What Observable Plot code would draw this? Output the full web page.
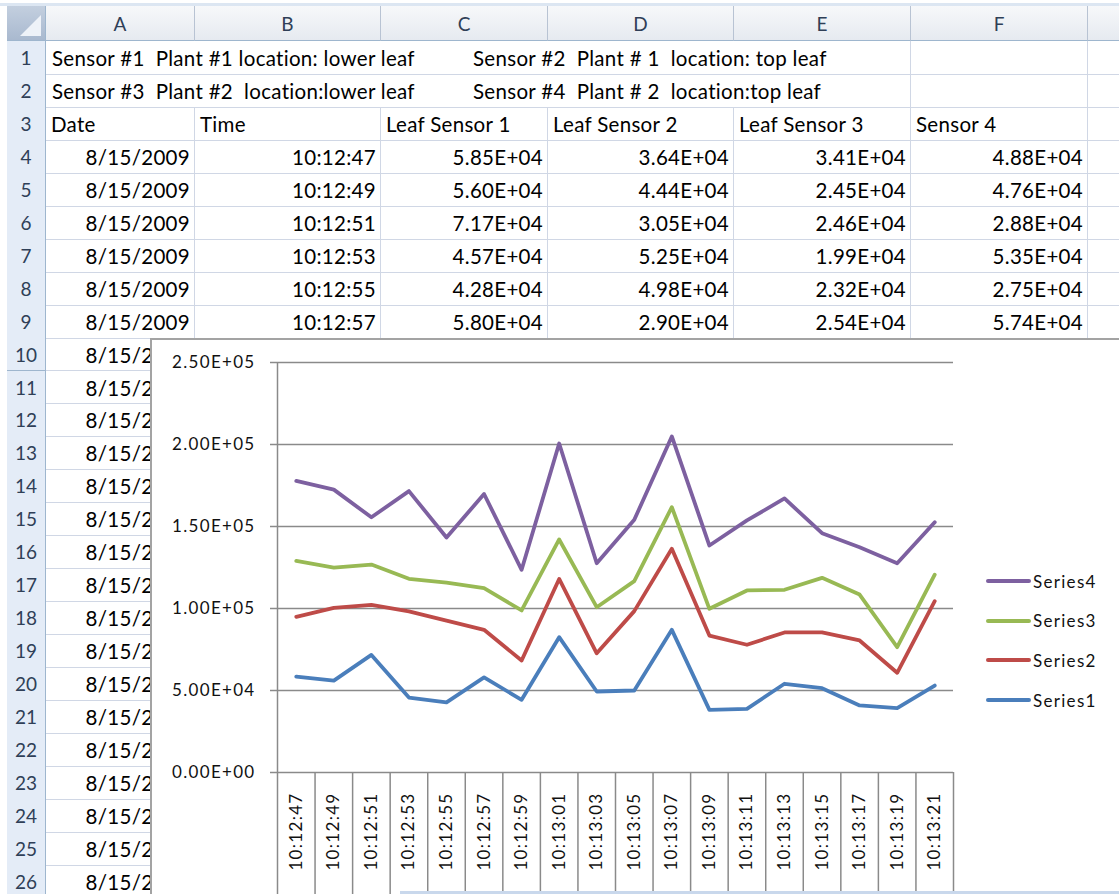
<!DOCTYPE html>
<html><head><meta charset="utf-8">
<script src="https://cdn.jsdelivr.net/npm/d3@7"></script>
<script src="https://cdn.jsdelivr.net/npm/@observablehq/plot@0.6"></script>
<style>
html,body{margin:0;padding:0;background:#fff;}
#sheet{position:relative;width:1119px;height:894px;overflow:hidden;background:#fff;font-family:Lato,"Open Sans",sans-serif;color:#000;}
.a{position:absolute;box-sizing:border-box;white-space:pre;}
</style></head><body><div id="sheet"></div>
<script>
// ---------- data ----------
const times = ["10:12:47","10:12:49","10:12:51","10:12:53","10:12:55","10:12:57","10:12:59","10:13:01","10:13:03","10:13:05","10:13:07","10:13:09","10:13:11","10:13:13","10:13:15","10:13:17","10:13:19","10:13:21"];
const series = ["Series1","Series2","Series3","Series4"];
const leafSensor1 = [58500,56000,71700,45700,42800,58000,44300,82500,49400,50000,87000,38200,38800,54100,51400,40900,39200,53000];
const leafSensor2 = [36400,44400,30500,52500,49800,29000,24000,35500,23300,48400,49400,45300,39100,31300,34000,39600,21600,51500];
const leafSensor3 = [34100,24500,24600,19900,23200,25400,30500,24100,28100,18300,25400,16300,33100,26000,33300,28000,15600,16100];
const sensor4     = [48800,47600,28800,53500,27500,57400,24800,58500,26800,37400,43100,38600,42700,55700,27200,28900,51200,32000];
const readingDate = "8/15/2009";
const columnLetters = ["A","B","C","D","E","F",""];
const columnHeaders = ["Date","Time","Leaf Sensor 1","Leaf Sensor 2","Leaf Sensor 3","Sensor 4"];
const notes = [
  ["Sensor #1  Plant #1 location: lower leaf", "Sensor #2  Plant # 1  location: top leaf"],
  ["Sensor #3  Plant #2  location:lower leaf", "Sensor #4  Plant # 2  location:top leaf"]
];
const yTicks = [0,50000,100000,150000,200000,250000];
const seriesColors = ["#4A7EBB","#BE4B48","#98B954","#7D60A0"];
const values = [leafSensor1, leafSensor2, leafSensor3, sensor4];

function sci(v){
  const [m,e] = v.toExponential(2).split("e");
  const n = +e;
  return m + "E" + (n < 0 ? "-" : "+") + String(Math.abs(n)).padStart(2,"0");
}

// ---------- spreadsheet ----------
const sheet = document.getElementById("sheet");
function el(style, text, parent = sheet){
  const d = document.createElement("div");
  d.className = "a";
  d.style.cssText = style;
  if (text != null) d.textContent = text;
  parent.appendChild(d);
  return d;
}
const colEdges = [46,195,381,548,734,911,1088,1150];
const rowH = 32.95, rowTop0 = 41, nRows = 26;
const rowTop = k => rowTop0 + (k - 1) * rowH;
const font = "font-size:20.5px;letter-spacing:0.3px;";
const hfont = "font-size:19px;";
const chartLeft = 150, chartTop = 338;
const visibleRows = 9; // rows fully above the embedded chart

// top strip
el("left:0;top:3px;width:1119px;height:3px;background:#dce6f2;");
// column headers
columnLetters.forEach((c, j) => {
  const w = colEdges[j+1] - colEdges[j];
  el(`left:${colEdges[j]}px;top:6px;width:${w}px;height:${rowTop0-6}px;background:linear-gradient(#f7f8fa,#e6eaf0);border-right:1px solid #b8c3d3;border-bottom:1px solid #9eb6ce;text-align:center;line-height:${rowTop0-6}px;${hfont}color:#2f3f57;`, c);
});
// corner
const corner = el(`left:7px;top:6px;width:39px;height:${rowTop0-6}px;background:linear-gradient(#c3cfdf,#a9b9cf);border-right:1px solid #9eb6ce;border-bottom:1px solid #9eb6ce;`);
corner.innerHTML = '<svg width="39" height="35" style="position:absolute;left:0;top:0"><polygon points="34,9 34,30 13,30" fill="#eef2f8"/></svg>';
// row headers and cells
for (let k = 1; k <= nRows; k++) {
  el(`left:7px;top:${rowTop(k)}px;width:39px;height:${rowH+1}px;background:#e4ecf7;border-right:1px solid #9eb6ce;border-bottom:1px solid #9eb6ce;text-align:center;line-height:${rowH+2}px;${hfont}color:#2f3f57;`, String(k));
  for (let j = 0; j < columnLetters.length; j++) {
    const w = colEdges[j+1] - colEdges[j];
    const hideRight = k <= 2 && j < 4;
    el(`left:${colEdges[j]}px;top:${rowTop(k)}px;width:${w}px;height:${rowH+1}px;border-bottom:1px solid #d0d7e5;${hideRight ? "" : "border-right:1px solid #d0d7e5;"}`);
  }
}
function cellText(k, j, text, align){
  const w = colEdges[j+1] - colEdges[j];
  el(`left:${colEdges[j]}px;top:${rowTop(k)}px;width:${w}px;height:${rowH}px;line-height:${rowH+3}px;padding:0 5px;${font}text-align:${align};overflow:hidden;`, text);
}
// notes rows 1-2
notes.forEach((pair, r) => {
  el(`left:52px;top:${rowTop(r+1)}px;height:${rowH}px;line-height:${rowH+3}px;${font}`, pair[0]);
  el(`left:473px;top:${rowTop(r+1)}px;height:${rowH}px;line-height:${rowH+3}px;${font}`, pair[1]);
});
columnHeaders.forEach((h, j) => cellText(3, j, h, "left"));
for (let k = 4; k <= nRows; k++) {
  const i = k - 4;
  if (k <= visibleRows) {
    cellText(k, 0, readingDate, "right");
    if (i < times.length) {
      cellText(k, 1, times[i], "right");
      values.forEach((arr, s) => cellText(k, 2 + s, sci(arr[i]), "right"));
    }
  } else {
    // only the part of column A left of the chart is visible
    const clip = el(`left:${colEdges[0]}px;top:${rowTop(k)}px;width:${chartLeft - colEdges[0]}px;height:${rowH}px;overflow:hidden;`);
    el(`left:0;top:0;width:${colEdges[1]-colEdges[0]}px;height:${rowH}px;line-height:${rowH+3}px;padding:0 5px;${font}text-align:right;`, readingDate, clip);
  }
}

// ---------- chart ----------
const chartBox = el(`left:${chartLeft}px;top:${chartTop}px;width:990px;height:580px;background:#fff;border-left:2px solid #a3a3a3;border-top:2px solid #a3a3a3;overflow:hidden;`);
const tidy = series.flatMap((s, si) => values[si].map((v, i) => ({series: s, i, value: v})));
const xDomain = [-0.5, times.length - 0.5];
const dividers = d3.range(times.length + 1).map(i => i - 0.5);
const axisGray = "#8a8a8a";
const chart = Plot.plot({
  width: 811, height: 562,
  marginLeft: 125, marginRight: 10, marginTop: 22, marginBottom: 130,
  style: "font-family: Lato, sans-serif; font-size: 17px; letter-spacing: 1.3px; background: transparent; overflow: visible; color: #111;",
  x: {type: "linear", domain: xDomain, axis: null},
  y: {domain: [0, 250000], axis: null},
  color: {domain: series, range: seriesColors},
  marks: [
    Plot.ruleY(yTicks, {stroke: axisGray, strokeWidth: 1.5, insetLeft: -7}),
    Plot.ruleX([xDomain[0]], {stroke: axisGray, strokeWidth: 1.5}),
    Plot.ruleX(dividers, {y1: 0, y2: -100000, stroke: axisGray, strokeWidth: 1.5}),
    Plot.text(yTicks, {y: d => d, frameAnchor: "left", text: sci, textAnchor: "end", dx: -22, fill: "#111", fontSize: 17}),
    Plot.text(times, {x: (d, i) => i, frameAnchor: "bottom", text: d => d, rotate: -90, textAnchor: "end", lineAnchor: "middle", dy: 20, fill: "#111", fontSize: 17}),
    Plot.lineY(tidy, Plot.stackY2({x: "i", y: "value", z: "series", stroke: "series", strokeWidth: 3.8, strokeLinejoin: "round", strokeLinecap: "round"}))
  ]
});
chart.style.position = "absolute";
chart.style.left = "0px";
chart.style.top = "0px";
chartBox.appendChild(chart);

// legend (top entry is the last series)
const legendX = 834, legendY0 = 241, legendStep = 39.7;
series.slice().reverse().forEach((s, idx) => {
  const c = seriesColors[series.indexOf(s)];
  const row = el(`left:${legendX}px;top:${legendY0 + idx*legendStep - 12}px;height:24px;display:flex;align-items:center;font-size:17px;letter-spacing:1.3px;color:#111;`, null, chartBox);
  const sw = document.createElement("span");
  sw.style.cssText = `display:inline-block;width:45px;height:4px;background:${c};border-radius:2px;margin-right:2px;`;
  row.appendChild(sw);
  const t = document.createElement("span");
  t.textContent = s;
  row.appendChild(t);
});

// bottom window edge
el("left:400px;top:891px;width:719px;height:3px;background:#c9d8ec;");
</script></body></html>
